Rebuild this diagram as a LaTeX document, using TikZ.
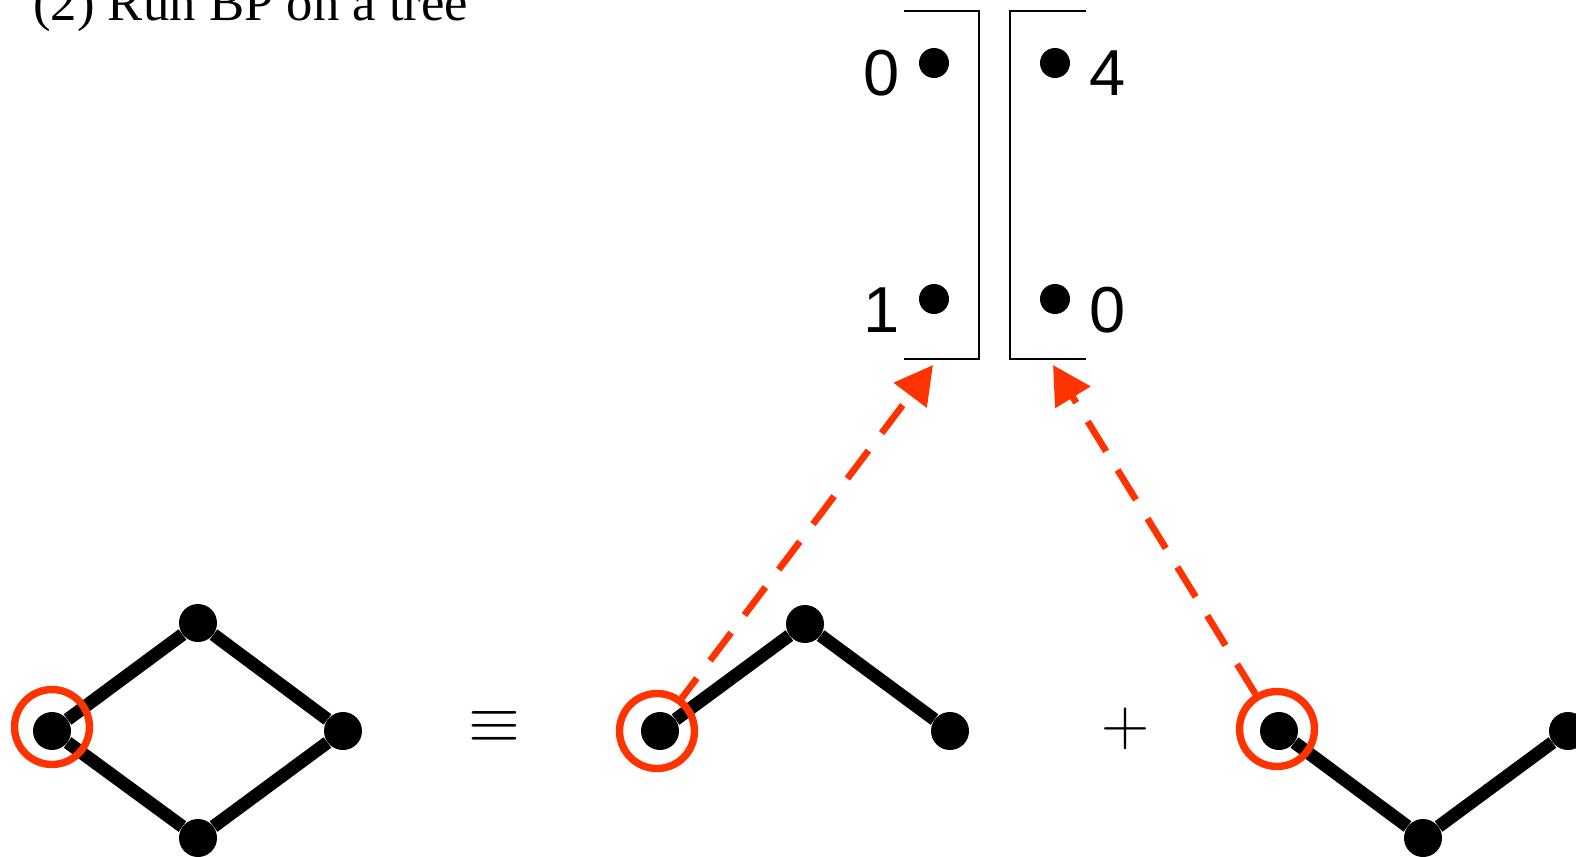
\RequirePackage{fix-cm}
\documentclass[tikz,border=0pt]{standalone}
\usepackage{fontspec}
\setmainfont{Liberation Serif}
\newfontfamily\labelfont{Liberation Sans}
\usetikzlibrary{arrows.meta}
\definecolor{bpred}{RGB}{255,51,0}
\begin{document}
\begin{tikzpicture}[x=0.02cm,y=-0.02cm,
  dot/.style={circle,fill=black,inner sep=0pt,minimum size=0.76cm},
  sdot/.style={circle,fill=black,inner sep=0pt,minimum size=0.6cm},
  edge/.style={line width=7.4pt},
  ring/.style={circle,draw=bpred,line width=4.2pt,inner sep=0pt,minimum size=1.5cm},
  bracket/.style={line width=1.2pt},
  msg/.style={draw=bpred,line width=3.8pt,dash pattern=on 0.70cm off 0.44cm,
    -{Triangle[length=0.76cm,width=0.8cm]}},
  num/.style={font=\labelfont\fontsize{37}{40}\selectfont,anchor=base,inner sep=0pt},
  sym/.style={inner sep=0pt,font=\fontsize{38}{40}\selectfont},
  ]
\useasboundingbox (0,0) rectangle (1576,856);

% title
\node[anchor=base west,inner sep=0pt,font=\fontsize{30}{36}\selectfont] (title) at (33,20.5) {(2) Run BP on a tree};

% brackets
\draw[bracket] (904,11) -- (979,11) -- (979,359) -- (904,359);
\draw[bracket] (1086,11) -- (1010,11) -- (1010,359) -- (1086,359);
\node[sdot] (b1) at (934,63) {};
\node[sdot] (b2) at (934,299) {};
\node[sdot] (b3) at (1055,63) {};
\node[sdot] (b4) at (1055,299) {};
\node[num] (l1) at (882,95) {0};
\node[num] (l2) at (882,332) {1};
\node[num] (l3) at (1108,95) {4};
\node[num] (l4) at (1108,332) {0};

% tree 1 (cycle)
\node[dot] (a1) at (52,731) {};
\node[dot] (a2) at (198,623) {};
\node[dot] (a3) at (343,731) {};
\node[dot] (a4) at (198,838) {};
\draw[edge] (a1) -- (a2) (a2) -- (a3) (a3) -- (a4) (a4) -- (a1);

% tree 2
\node[dot] (c1) at (660,731) {};
\node[dot] (c2) at (805,624) {};
\node[dot] (c3) at (950,731) {};
\draw[edge] (c1) -- (c2) (c2) -- (c3);

% tree 3
\node[dot] (d1) at (1279,731) {};
\node[dot] (d2) at (1423,838) {};
\node[dot] (d3) at (1568,731) {};
\draw[edge] (d1) -- (d2) (d2) -- (d3);

% symbols
\node[sym] (eq) at (494.5,727) {$\equiv$};
\node[sym] (plus) at (1126,728.5) {$+$};

% rings
\node[ring] (r1) at (52,727) {};
\node[ring] (r2) at (657,731) {};
\node[ring] (r3) at (1277,729) {};

% messages
\coordinate (tL) at (933,365);
\coordinate (tR) at (1053,365);
\draw[msg,dash phase=0.2cm] (r2) -- (tL);
\draw[msg] (r3) -- (tR);
\end{tikzpicture}
\end{document}
